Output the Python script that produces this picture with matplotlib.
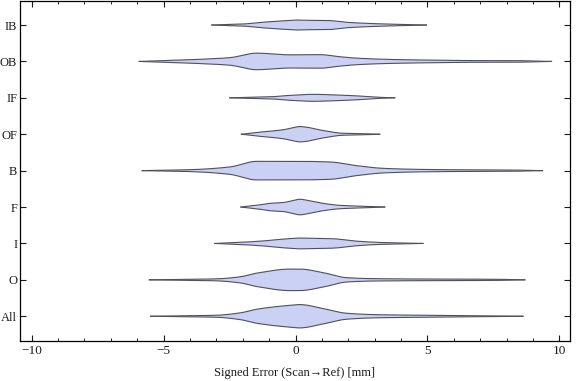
import numpy as np
import matplotlib
matplotlib.use('Agg')
import matplotlib.pyplot as plt
from matplotlib.ticker import MultipleLocator

plt.rcParams['font.family'] = ['Liberation Serif', 'DejaVu Serif']

## categories, bottom to top
groups = ['All', 'O', 'I', 'F', 'B', 'OF', 'IF', 'OB', 'IB']

## violin outlines: error (mm) and half width (px at 36.5 px per row)
all_x  = [-5.49, -4.0, -3.0, -2.11, -1.48, -0.2, 0.16, 1.05, 1.93, 3.19, 5.0, 7.0, 8.62]
all_w  = [0.0, 0.5, 1.0, 3.3, 7.0, 11.0, 11.7, 7.7, 3.0, 1.5, 1.0, 0.6, 0.0]
o_x    = [-5.54, -4.0, -3.0, -2.11, -1.48, -0.2, 0.16, 1.05, 1.93, 2.93, 5.0, 7.5, 8.69]
o_w    = [0.0, 0.5, 1.0, 3.0, 6.7, 10.8, 10.8, 7.2, 2.2, 1.2, 0.8, 0.6, 0.0]
i_x    = [-3.06, -2.0, -1.23, -0.4, 0.16, 0.6, 1.42, 2.31, 3.19, 4.83]
i_w    = [0.0, 1.2, 2.5, 4.5, 5.4, 5.2, 4.7, 2.3, 1.0, 0.0]
f_x    = [-2.07, -1.4, -0.97, -0.47, -0.1, 0.16, 0.5, 1.04, 1.68, 2.31, 3.38]
f_w    = [0.0, 2.0, 3.7, 4.5, 6.5, 7.8, 6.5, 3.7, 1.7, 1.0, 0.0]
b_x    = [-5.81, -4.5, -3.75, -2.49, -1.48, 0.16, 1.3, 2.31, 3.32, 4.83, 6.48, 8.2, 9.36]
b_w    = [0.0, 0.6, 1.2, 3.7, 9.3, 9.3, 8.7, 5.0, 2.3, 1.2, 0.8, 0.6, 0.0]
of_x   = [-2.05, -1.4, -0.97, -0.47, -0.1, 0.16, 0.29, 1.05, 1.8, 2.5, 3.19]
of_w   = [0.0, 2.0, 3.0, 4.5, 6.5, 7.7, 7.5, 3.7, 1.0, 0.6, 0.0]
if_x   = [-2.49, -1.6, -0.97, -0.2, 0.66, 1.68, 2.3, 2.93, 3.76]
if_w   = [0.0, 0.6, 1.0, 2.5, 3.5, 2.7, 2.0, 0.8, 0.0]
ob_x   = [-5.92, -5.0, -3.75, -2.49, -1.48, -0.2, 0.92, 1.68, 2.3, 3.57, 5.47, 7.0, 8.2, 9.70]
ob_w   = [0.0, 0.8, 2.0, 3.8, 8.3, 6.6, 6.8, 4.7, 3.3, 2.0, 1.2, 0.8, 0.8, 0.0]
ib_x   = [-3.17, -2.0, -1.24, -0.3, 0.0, 0.5, 1.2, 1.95, 3.08, 4.96]
ib_w   = [0.0, 1.0, 2.8, 4.5, 5.0, 4.7, 4.6, 2.7, 1.3, 0.0]

profiles = [(all_x, all_w), (o_x, o_w), (i_x, i_w), (f_x, f_w), (b_x, b_w),
            (of_x, of_w), (if_x, if_w), (ob_x, ob_w), (ib_x, ib_w)]


def smooth_outline(px, pw, n=500):
    # monotone cubic (Fritsch-Carlson) through the read points
    x = np.asarray(px, float)
    y = np.asarray(pw, float)
    h = np.diff(x)
    d = np.diff(y)/h
    m = np.zeros_like(y)
    m[0], m[-1] = d[0], d[-1]
    for i in range(1, len(y)-1):
        if d[i-1]*d[i] > 0:
            w1 = 2*h[i] + h[i-1]
            w2 = h[i] + 2*h[i-1]
            m[i] = (w1 + w2)/(w1/d[i-1] + w2/d[i])
    xs = np.linspace(x[0], x[-1], n)
    k = np.clip(np.searchsorted(x, xs) - 1, 0, len(x)-2)
    t = (xs - x[k])/h[k]
    h00 = 2*t**3 - 3*t**2 + 1
    h10 = t**3 - 2*t**2 + t
    h01 = -2*t**3 + 3*t**2
    h11 = t**3 - t**2
    ys = h00*y[k] + h10*h[k]*m[k] + h01*y[k+1] + h11*h[k]*m[k+1]
    return xs, np.clip(ys, 0, None)


fig = plt.figure(figsize=(5.76, 3.81), dpi=100, facecolor='w')
ax = fig.add_axes([20/576, 1-341/381, 550/576, 340/381])

row_px = 36.5
for k, (px, pw) in enumerate(profiles):
    pos = k + 1
    xs, ws = smooth_outline(px, pw)
    ws = ws/row_px
    ax.fill_between(xs, pos-ws, pos+ws, facecolor='#cbd1f4', edgecolor='none', zorder=2)
    ax.plot(xs, pos+ws, color='#50505c', lw=0.8, zorder=3)
    ax.plot(xs, pos-ws, color='#50505c', lw=0.8, zorder=3)

ax.set_xlim(-10.44, 10.4)
ax.set_ylim(0.32, 9.66)
ax.set_yticks(range(1, len(groups)+1))
ax.set_yticklabels(groups)
ax.xaxis.set_minor_locator(MultipleLocator(1))
ax.set_xticks([-10, -5, 0, 5, 10])
ax.set_xticklabels(['\u221210', '\u22125', '0', '5', '10'])
ax.tick_params(axis='both', which='major', direction='in', length=4.5, width=0.8,
               top=True, right=True, colors='#1a1a1a')
ax.tick_params(axis='x', which='major', labelsize=9.5, pad=3)
ax.tick_params(axis='y', which='major', labelsize=9, pad=2)
ax.tick_params(axis='x', which='minor', direction='in', length=2.5, width=0.6, top=True)
for s in ax.spines.values():
    s.set_linewidth(0.9)
ax.set_xlabel('Signed Error (Scan\u2192Ref) [mm]', fontsize=9, color='#1a1a1a', labelpad=7)

plt.savefig('out.png', dpi=100, facecolor='w')
